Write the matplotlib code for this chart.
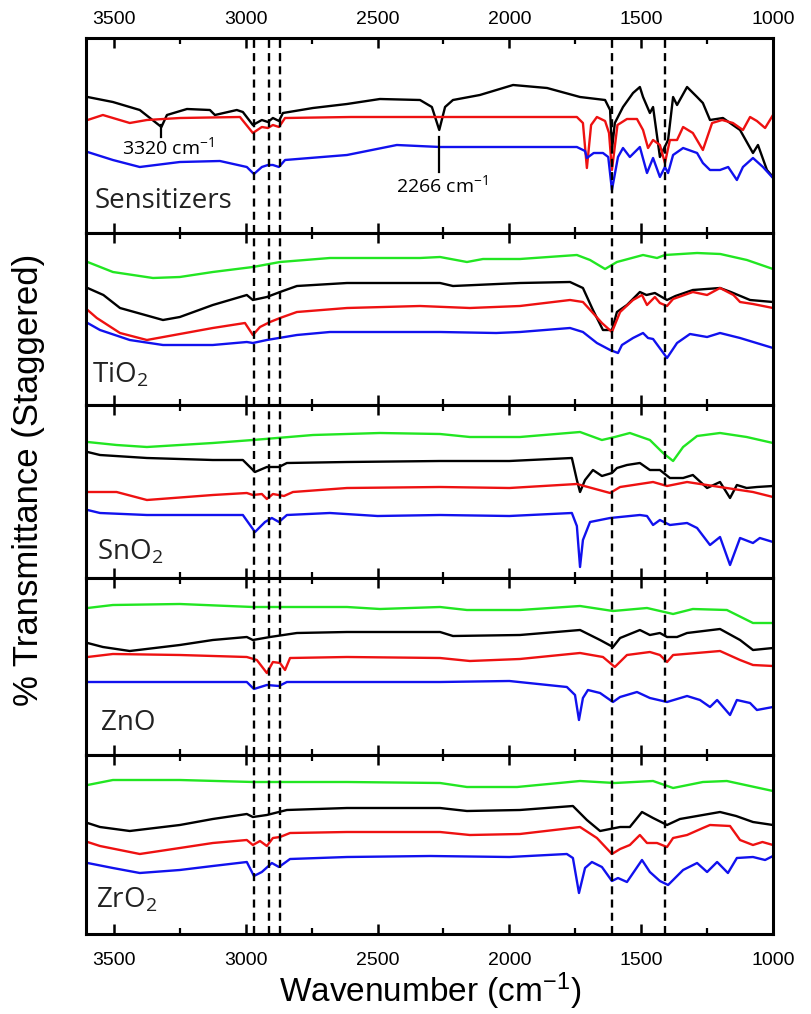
import matplotlib
matplotlib.use('Agg')
import matplotlib.pyplot as plt

plt.rcParams['font.family'] = ['Liberation Sans', 'DejaVu Sans']
plt.rcParams['mathtext.default'] = 'regular'

# (wavenumber, staggered transmittance)
sens_black = [(3600, 136), (3504, 131), (3402, 123), (3320, 106), (3299, 118), (3223, 124), (3136, 123),
              (3117, 118), (3034, 123), (3011, 121), (2973, 108), (2939, 113), (2916, 111), (2897, 115),
              (2874, 112), (2859, 120), (2745, 125), (2616, 129), (2491, 134), (2339, 133), (2294, 126),
              (2266, 103), (2244, 126), (2214, 133), (2112, 138), (1986, 148), (1857, 145), (1732, 136),
              (1637, 133), (1618, 123), (1611, 83), (1600, 110), (1569, 126), (1531, 140), (1505, 146),
              (1493, 136), (1467, 120), (1455, 126), (1429, 76), (1398, 93), (1379, 136), (1364, 128),
              (1326, 146), (1288, 136), (1266, 130), (1239, 113), (1190, 115), (1125, 103), (1076, 80),
              (1057, 88), (1023, 63), (1000, 56)]
sens_red = [(3600, 113), (3542, 118), (3440, 110), (3375, 113), (3250, 115), (3022, 116), (2973, 100),
            (2939, 106), (2916, 105), (2897, 108), (2874, 106), (2851, 115), (2600, 116), (2339, 116),
            (2000, 116), (1744, 116), (1721, 110), (1706, 65), (1690, 108), (1668, 116), (1637, 112),
            (1622, 100), (1611, 63), (1590, 108), (1554, 114), (1516, 114), (1493, 103), (1474, 85),
            (1455, 93), (1429, 88), (1410, 70), (1391, 93), (1364, 93), (1341, 106), (1304, 100),
            (1266, 83), (1231, 110), (1193, 113), (1152, 110), (1114, 103), (1087, 116), (1061, 112),
            (1030, 105), (1000, 118)]
sens_blue = [(3600, 81), (3504, 73), (3402, 66), (3250, 71), (3098, 72), (2996, 66), (2969, 59), (2939, 66),
             (2916, 68), (2897, 68), (2874, 66), (2851, 73), (2616, 78), (2427, 88), (2263, 86), (2000, 86),
             (1744, 86), (1713, 82), (1706, 75), (1680, 80), (1645, 80), (1625, 76), (1611, 43), (1588, 76),
             (1569, 85), (1543, 76), (1505, 86), (1478, 60), (1455, 75), (1429, 56), (1410, 66), (1398, 60),
             (1379, 78), (1341, 85), (1288, 80), (1266, 70), (1239, 63), (1201, 63), (1170, 66), (1137, 53),
             (1114, 66), (1076, 75), (1038, 66), (1000, 55)]

tio2_green = [(3600, 143), (3504, 133), (3352, 127), (3250, 128), (3125, 133), (2973, 138), (2870, 143),
              (2681, 147), (2339, 147), (2263, 148), (2161, 143), (2100, 146), (1960, 146), (1744, 150),
              (1694, 145), (1637, 136), (1592, 143), (1493, 150), (1440, 147), (1410, 150), (1288, 152),
              (1200, 151), (1099, 145), (1000, 136)]
tio2_black = [(3600, 117), (3540, 110), (3477, 97), (3314, 85), (3250, 88), (3125, 100), (2996, 110),
              (2973, 105), (2920, 108), (2870, 113), (2806, 119), (2616, 122), (2263, 122), (2214, 119),
              (1960, 122), (1770, 123), (1721, 117), (1683, 95), (1645, 75), (1611, 75), (1592, 93),
              (1554, 100), (1505, 113), (1480, 110), (1448, 112), (1402, 105), (1370, 109), (1304, 115),
              (1201, 117), (1160, 113), (1087, 105), (1000, 103)]
tio2_red = [(3600, 95), (3565, 87), (3477, 72), (3375, 65), (3250, 71), (3125, 77), (3003, 82), (2973, 70),
            (2946, 78), (2908, 83), (2870, 87), (2806, 93), (2616, 97), (2339, 99), (2150, 97), (1960, 99),
            (1770, 105), (1721, 103), (1683, 92), (1649, 82), (1611, 73), (1580, 93), (1531, 105),
            (1497, 110), (1478, 100), (1448, 108), (1429, 102), (1402, 99), (1379, 106), (1304, 113),
            (1250, 110), (1201, 117), (1150, 110), (1125, 103), (1076, 101), (1000, 97)]
tio2_blue = [(3600, 82), (3553, 75), (3440, 65), (3314, 60), (3125, 60), (2996, 63), (2973, 62), (2920, 65),
             (2806, 70), (2681, 73), (2263, 73), (2050, 72), (1960, 73), (1770, 77), (1721, 73), (1668, 62),
             (1618, 55), (1588, 52), (1573, 60), (1531, 67), (1493, 72), (1474, 67), (1455, 66), (1402, 47),
             (1364, 62), (1315, 71), (1250, 68), (1201, 72), (1125, 67), (1000, 57)]

sno2_green = [(3600, 136), (3490, 133), (3375, 131), (3125, 135), (2973, 138), (2745, 143), (2491, 145),
              (2263, 144), (2150, 141), (1960, 141), (1732, 146), (1649, 138), (1600, 141), (1543, 145),
              (1467, 138), (1417, 125), (1379, 117), (1341, 131), (1288, 142), (1201, 145), (1100, 141),
              (1000, 135)]
sno2_black = [(3600, 126), (3553, 123), (3375, 120), (3125, 118), (3011, 118), (2965, 106), (2920, 111),
              (2874, 111), (2844, 115), (2616, 116), (2263, 117), (2000, 117), (1763, 120), (1744, 98),
              (1732, 86), (1713, 98), (1683, 108), (1649, 102), (1611, 105), (1592, 110), (1554, 113),
              (1505, 115), (1467, 108), (1429, 108), (1391, 100), (1341, 100), (1304, 103), (1250, 90),
              (1201, 96), (1163, 80), (1137, 93), (1100, 90), (1061, 91), (1000, 92)]
sno2_red = [(3600, 86), (3490, 86), (3375, 78), (3125, 83), (2996, 85), (2973, 83), (2939, 84), (2920, 79),
            (2897, 84), (2855, 82), (2821, 86), (2616, 90), (2263, 91), (2000, 90), (1744, 94), (1618, 85),
            (1580, 91), (1455, 96), (1402, 92), (1326, 96), (1201, 91), (1076, 86), (1000, 81)]
sno2_blue = [(3600, 68), (3553, 65), (3375, 63), (3011, 63), (2965, 46), (2927, 56), (2901, 60), (2874, 56),
             (2844, 63), (2681, 65), (2500, 62), (2263, 63), (2000, 62), (1763, 65), (1744, 52), (1732, 11),
             (1721, 38), (1694, 56), (1618, 60), (1505, 63), (1478, 62), (1455, 53), (1429, 58), (1391, 53),
             (1326, 55), (1288, 50), (1239, 33), (1201, 41), (1163, 13), (1125, 40), (1076, 35), (1050, 40),
             (1000, 36)]

zno_green = [(3600, 147), (3504, 150), (3250, 151), (2973, 148), (2616, 148), (2491, 146), (2263, 148),
             (2161, 145), (1960, 145), (1732, 149), (1607, 144), (1478, 147), (1379, 141), (1304, 146),
             (1175, 145), (1076, 132), (1000, 132)]
zno_black = [(3600, 112), (3542, 108), (3440, 104), (3250, 110), (3125, 115), (2996, 118), (2973, 115),
             (2908, 118), (2806, 122), (2616, 123), (2263, 123), (2214, 119), (1960, 120), (1732, 125),
             (1656, 115), (1607, 108), (1580, 117), (1505, 125), (1467, 120), (1429, 122), (1402, 118),
             (1364, 118), (1326, 122), (1201, 126), (1125, 115), (1076, 105), (1000, 107)]
zno_red = [(3600, 98), (3504, 101), (3250, 100), (2996, 98), (2958, 95), (2920, 82), (2897, 93), (2870, 92),
           (2851, 85), (2832, 97), (2616, 98), (2263, 97), (2150, 94), (1960, 96), (1732, 102), (1645, 98),
           (1600, 88), (1554, 100), (1467, 103), (1429, 100), (1402, 93), (1379, 100), (1201, 104),
           (1125, 95), (1076, 90), (1000, 89)]
zno_blue = [(3600, 73), (3250, 73), (2996, 73), (2969, 66), (2920, 70), (2874, 69), (2844, 73), (2263, 73),
            (2000, 74), (1782, 68), (1751, 60), (1736, 35), (1721, 57), (1702, 65), (1656, 62), (1607, 53),
            (1580, 58), (1516, 63), (1467, 57), (1402, 53), (1326, 59), (1277, 55), (1239, 48), (1212, 55),
            (1163, 40), (1137, 55), (1087, 52), (1061, 45), (1000, 48)]

zro2_green = [(3600, 149), (3504, 154), (3250, 154), (2973, 152), (2616, 152), (2263, 151), (2161, 147),
              (1971, 147), (1732, 153), (1600, 151), (1455, 153), (1379, 146), (1266, 152), (1175, 153),
              (1000, 143)]
zro2_black = [(3600, 111), (3553, 107), (3440, 103), (3250, 109), (3125, 115), (2996, 120), (2973, 117),
              (2920, 119), (2844, 124), (2616, 126), (2263, 126), (2161, 123), (1960, 124), (1759, 128),
              (1706, 114), (1656, 103), (1580, 107), (1543, 107), (1497, 122), (1455, 116), (1402, 109),
              (1353, 115), (1266, 119), (1201, 122), (1140, 118), (1076, 112), (1000, 109)]
zro2_red = [(3600, 92), (3553, 88), (3402, 80), (3250, 86), (3125, 91), (2996, 94), (2973, 89), (2946, 93),
            (2920, 88), (2897, 96), (2870, 97), (2832, 101), (2616, 102), (2263, 102), (2150, 99),
            (1960, 100), (1732, 107), (1668, 96), (1611, 80), (1580, 85), (1543, 89), (1505, 99), (1478, 91),
            (1440, 91), (1402, 87), (1379, 96), (1326, 99), (1266, 106), (1239, 109), (1163, 108),
            (1125, 94), (1076, 89), (1040, 92), (1000, 89)]
zro2_blue = [(3600, 71), (3504, 66), (3402, 61), (3250, 64), (3125, 68), (2996, 72), (2969, 58), (2939, 62),
             (2901, 71), (2874, 67), (2832, 75), (2616, 77), (2300, 78), (2000, 77), (1782, 80), (1759, 76),
             (1736, 41), (1713, 66), (1687, 72), (1649, 67), (1611, 53), (1588, 56), (1554, 52), (1497, 74),
             (1467, 62), (1429, 53), (1398, 49), (1341, 64), (1288, 71), (1250, 62), (1212, 72), (1171, 61),
             (1137, 76), (1076, 77), (1030, 74), (1000, 78)]

panel_names = ['Sensitizers', r'TiO$_2$', r'SnO$_2$', 'ZnO', r'ZrO$_2$']
panel_curves = [
    [sens_black, sens_red, sens_blue],
    [tio2_green, tio2_black, tio2_red, tio2_blue],
    [sno2_green, sno2_black, sno2_red, sno2_blue],
    [zno_green, zno_black, zno_red, zno_blue],
    [zro2_green, zro2_black, zro2_red, zro2_blue],
]
panel_colors = [
    ['black', '#ee1111', '#1111ee'],
    ['#22e622', 'black', '#ee1111', '#1111ee'],
    ['#22e622', 'black', '#ee1111', '#1111ee'],
    ['#22e622', 'black', '#ee1111', '#1111ee'],
    ['#22e622', 'black', '#ee1111', '#1111ee'],
]
panel_heights = [195, 172, 173, 177, 179]
label_pos = [(3575, 25), (3582, 22), (3565, 18), (3550, 25), (3568, 26)]
dashed_wn = [2970, 2910, 2870, 1610, 1410]
major_ticks = [3500, 3000, 2500, 2000, 1500, 1000]
minor_ticks = [3250, 2750, 2250, 1750, 1250]

fig = plt.figure(figsize=(8.12, 10.14), dpi=100)
gs = fig.add_gridspec(5, 1, left=86 / 812, right=773 / 812, top=1 - 38 / 1014, bottom=1 - 934 / 1014,
                      hspace=0, height_ratios=panel_heights)

axes = []
for i in range(5):
    ax = fig.add_subplot(gs[i])
    axes.append(ax)
    for curve, col in zip(panel_curves[i], panel_colors[i]):
        ax.plot([p[0] for p in curve], [p[1] for p in curve], color=col, lw=1.7)
    for x in dashed_wn:
        ax.axvline(x, color='black', lw=1.7, ls=(0, (3.4, 2.2)))
    ax.set_xlim(3606, 1000)
    ax.set_ylim(0, panel_heights[i])
    ax.set_yticks([])
    ax.set_xticks(major_ticks)
    ax.set_xticks(minor_ticks, minor=True)
    ax.tick_params(axis='x', which='both', direction='in', top=True, bottom=True,
                   labeltop=(i == 0), labelbottom=(i == 4), labelsize=14, pad=7)
    ax.tick_params(axis='x', which='major', length=7, width=1.8)
    ax.tick_params(axis='x', which='minor', length=4, width=1.6)
    if i == 4:
        ax.tick_params(axis='x', which='major', pad=13)
    for s in ax.spines.values():
        s.set_linewidth(2.2)
    lx, ly = label_pos[i]
    ax.text(lx, ly, panel_names[i], fontsize=20, family=['Open Sans', 'DejaVu Sans'],
            ha='left', va='baseline', color='#222222')

# peak annotations on the sensitizer spectra
ax0 = axes[0]
ax0.plot([3320, 3320], [108, 96], color='black', lw=1.6)
ax0.text(3295, 86, '3320 cm$^{-1}$', fontsize=14, family=['Open Sans', 'DejaVu Sans'], ha='center', va='center')
ax0.plot([2266, 2266], [96, 61], color='black', lw=1.6)
ax0.text(2255, 48, '2266 cm$^{-1}$', fontsize=14, family=['Open Sans', 'DejaVu Sans'], ha='center', va='center')

fig.text(0.035, 0.527, '% Transmittance (Staggered)', rotation=90, fontsize=25, ha='center', va='center')
fig.text(0.53, 0.022, 'Wavenumber (cm$^{-1}$)', fontsize=24, ha='center', va='center')

fig.savefig('out.png', dpi=100)
